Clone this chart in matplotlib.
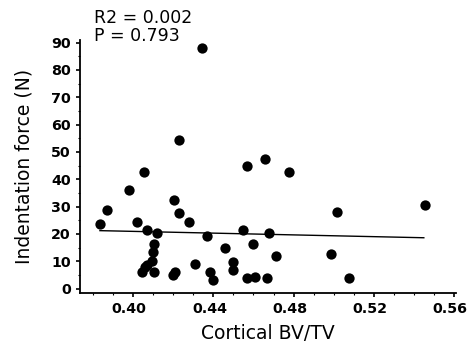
import numpy as np
import matplotlib
matplotlib.use("Agg")
import matplotlib.pyplot as plt
import matplotlib.transforms as mtrans
from matplotlib.ticker import MultipleLocator

plt.rcParams['font.family'] = ['DejaVu Sans']

# cortical BV/TV vs indentation force
bvtv = [0.3834, 0.3869, 0.3979, 0.4018, 0.4053, 0.4068, 0.4118, 0.4103, 0.4098,
        0.4093, 0.4068, 0.4043, 0.4058, 0.4103, 0.4198, 0.4208, 0.4203, 0.4228,
        0.4278, 0.4308, 0.4368, 0.4383, 0.4398, 0.4458, 0.4497, 0.4497, 0.4228,
        0.4343, 0.4567, 0.4657, 0.4777, 0.4547, 0.4677, 0.4597, 0.4712, 0.4567,
        0.4607, 0.4667, 0.5017, 0.4987, 0.5077, 0.5455]
force = [23.6, 28.8, 36.1, 24.4, 42.7, 21.4, 20.3, 16.3, 13.4,
         10.1, 8.6, 6.0, 7.9, 6.0, 4.9, 6.0, 32.4, 27.7,
         24.4, 9.0, 19.2, 6.0, 3.1, 14.8, 9.7, 6.8, 54.4,
         88.1, 44.9, 47.4, 42.7, 21.4, 20.3, 16.3, 11.9, 3.8,
         4.2, 3.8, 28.0, 12.6, 3.8, 30.6]

# regression line end points
fit_x = [0.3834, 0.5450]
fit_y = [21.2, 18.6]

xticks = [0.40, 0.44, 0.48, 0.52, 0.56]
xticklabels = ["0.40", "0.44", "0.48", "0.52", "0.56"]
stats = ["R2 = 0.002", "P = 0.793"]

fig = plt.figure(figsize=(4.7, 3.5), dpi=100)
ax = fig.add_axes([0.170, 0.163, 0.800, 0.723])

ax.scatter(bvtv, force, s=55, color='black', zorder=3, linewidths=0)
ax.plot(fit_x, fit_y, color='black', lw=1.0)

ax.set_xlim(0.3734, 0.561)
ax.set_ylim(-1.6, 91)
ax.xaxis.set_minor_locator(MultipleLocator(0.01))
ax.yaxis.set_major_locator(MultipleLocator(10))
ax.yaxis.set_minor_locator(MultipleLocator(5))
ax.set_xticks(xticks)
ax.set_xticklabels(xticklabels)

for s in ['top', 'right']:
    ax.spines[s].set_visible(False)
for s in ['left', 'bottom']:
    ax.spines[s].set_linewidth(1.3)

ax.tick_params(which='major', length=3, width=1.2, direction='out', labelsize=10.3)
ax.tick_params(which='minor', length=1.5, width=0.8, direction='out')
for lab in ax.get_xticklabels() + ax.get_yticklabels():
    lab.set_fontweight('bold')

# x labels sit a bit left of their ticks in the original
shift = mtrans.ScaledTranslation(-4 / 100, 0, fig.dpi_scale_trans)
for lab in ax.get_xticklabels():
    lab.set_transform(lab.get_transform() + shift)

ax.set_xlabel("Cortical BV/TV", fontsize=13.5, labelpad=6)
ax.set_ylabel("Indentation force (N)", fontsize=13.5, labelpad=13)

fig.text(94 / 470, 1 - 18 / 350, stats[0], fontsize=12.5, va='center', ha='left')
fig.text(94 / 470, 1 - 36 / 350, stats[1], fontsize=12.5, va='center', ha='left')

fig.savefig("out.png", dpi=100)
